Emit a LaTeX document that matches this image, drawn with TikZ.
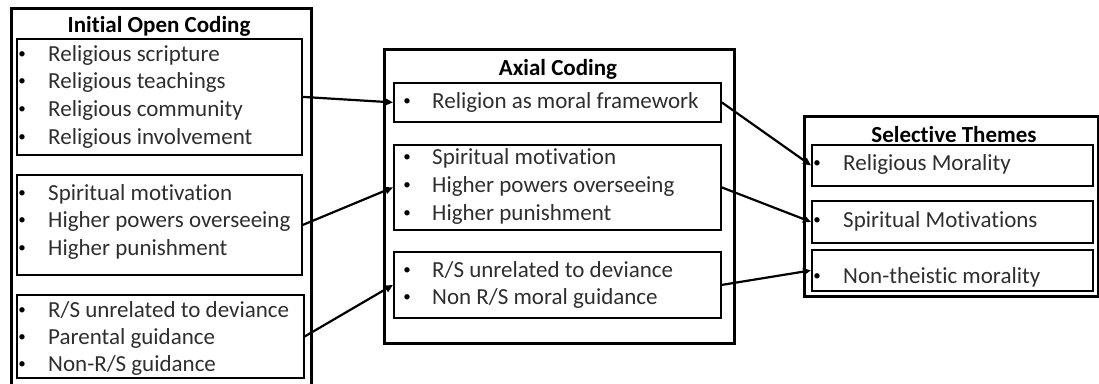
\documentclass[tikz,border=0pt]{standalone}
\usepackage{fontspec}
\setmainfont{Carlito}[Ligatures=NoCommon]
\usetikzlibrary{arrows.meta}
\begin{document}
\begin{tikzpicture}[x=1pt,y=-1pt,
  outerbox/.style={draw=black,line width=3pt,inner sep=0pt,anchor=north west},
  listbox/.style={draw=black,line width=1.8pt,inner sep=0pt,anchor=north west},
  heading/.style={font=\fontsize{23}{27}\selectfont\bfseries,text=black,inner sep=0pt,anchor=base},
  item/.style={font=\fontsize{23}{27}\selectfont,text=black!82,inner sep=0pt,anchor=base west},
  dot/.style={font=\fontsize{15}{18}\selectfont,text=black,inner sep=0pt,anchor=base},
  link/.style={line width=2.2pt,-{Triangle[length=8pt,width=7pt]}}
]
\useasboundingbox (0,0) rectangle (1099,383);
\clip (0,0) rectangle (1099,383);

% ---- Initial open coding column
\node[outerbox,minimum width=300pt,minimum height=388pt] (L) at (10,7) {};
\node[heading] (Lt) at (159,32) {Initial Open Coding};
\node[listbox,minimum width=285pt,minimum height=116pt] (L1) at (16,38) {};
\node[listbox,minimum width=285pt,minimum height=100pt] (L2) at (16,174) {};
\node[listbox,minimum width=287pt,minimum height=83pt] (L3) at (16,294) {};
\foreach \t [count=\i] in {Religious scripture,Religious teachings,Religious community,Religious involvement}{
  \node[dot] (L1d\i) at (22,{58+27.7*(\i-1)}) {\textbullet};
  \node[item] (L1i\i) at (48,{61+27.7*(\i-1)}) {\t};
}
\foreach \t [count=\i] in {Spiritual motivation,Higher powers overseeing,Higher punishment}{
  \node[dot] (L2d\i) at (22,{197+27.7*(\i-1)}) {\textbullet};
  \node[item] (L2i\i) at (48,{200+27.7*(\i-1)}) {\t};
}
\foreach \t [count=\i] in {R/S unrelated to deviance,Parental guidance,Non-R/S guidance}{
  \node[dot] (L3d\i) at (22,{314+27*(\i-1)}) {\textbullet};
  \node[item] (L3i\i) at (48,{317+27*(\i-1)}) {\t};
}

% ---- Axial coding column
\node[outerbox,minimum width=350pt,minimum height=294pt] (M) at (383,48) {};
\node[heading] (Mt) at (558,75) {Axial Coding};
\node[listbox,minimum width=327pt,minimum height=39pt] (M1) at (393,82) {};
\node[listbox,minimum width=327pt,minimum height=85pt] (M2) at (393,144) {};
\node[listbox,minimum width=327pt,minimum height=66pt] (M3) at (393,251) {};
\node[dot] (M1d1) at (407,105) {\textbullet};
\node[item] (M1i1) at (432,108) {Religion as moral framework};
\foreach \t [count=\i] in {Spiritual motivation,Higher powers overseeing,Higher punishment}{
  \node[dot] (M2d\i) at (407,{161+28*(\i-1)}) {\textbullet};
  \node[item] (M2i\i) at (432,{164+28*(\i-1)}) {\t};
}
\foreach \t [count=\i] in {R/S unrelated to deviance,Non R/S moral guidance}{
  \node[dot] (M3d\i) at (407,{274+27.5*(\i-1)}) {\textbullet};
  \node[item] (M3i\i) at (432,{277+27.5*(\i-1)}) {\t};
}

% ---- Selective themes column
\node[outerbox,minimum width=294pt,minimum height=180pt] (R) at (803,115) {};
\node[heading] (Rt) at (954,142) {Selective Themes};
\node[listbox,minimum width=281pt,minimum height=41pt] (R1) at (811,144) {};
\node[listbox,minimum width=281pt,minimum height=42pt] (R2) at (811,200) {};
\node[listbox,minimum width=281pt,minimum height=41pt] (R3) at (811,249) {};
\node[dot] (R1d) at (817,167) {\textbullet};
\node[item] (R1i) at (843,170) {Religious Morality};
\node[dot] (R2d) at (817,224) {\textbullet};
\node[item] (R2i) at (843,227) {Spiritual Motivations};
\node[dot] (R3d) at (817,280) {\textbullet};
\node[item] (R3i) at (843,283) {Non-theistic morality};

% ---- connectors
\draw[link] (L1.east) -- (M1.west);
\draw[link] (L2.east) -- (M2.west);
\draw[link] (L3.east) -- (M3.west);
\draw[link] (M1.east) -- (R1.west);
\draw[link] (M2.east) -- (R2.west);
\draw[link] (M3.east) -- (R3.west);
\end{tikzpicture}
\end{document}
